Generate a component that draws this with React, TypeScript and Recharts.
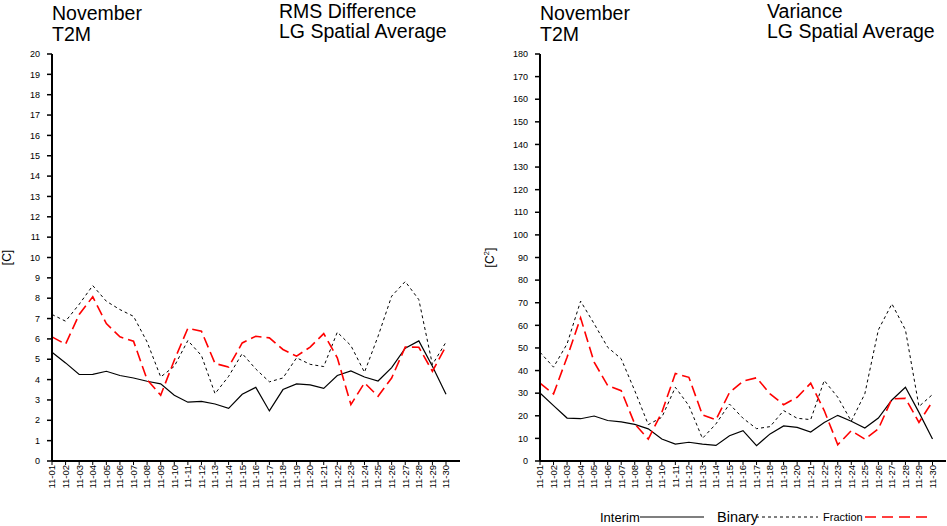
import { LineChart, Line, XAxis, YAxis } from "recharts"

const days = [
  "11-01", "11-02", "11-03", "11-04", "11-05", "11-06", "11-07", "11-08", "11-09", "11-10",
  "11-11", "11-12", "11-13", "11-14", "11-15", "11-16", "11-17", "11-18", "11-19", "11-20",
  "11-21", "11-22", "11-23", "11-24", "11-25", "11-26", "11-27", "11-28", "11-29", "11-30",
]

// RMS difference [C]
const rmsInterim = [
  5.34, 4.82, 4.25, 4.26, 4.41, 4.2, 4.08, 3.92, 3.79, 3.23,
  2.89, 2.93, 2.8, 2.59, 3.28, 3.62, 2.46, 3.51, 3.79, 3.74,
  3.57, 4.2, 4.43, 4.13, 3.93, 4.59, 5.54, 5.9, 4.66, 3.28,
]
const rmsBinary = [
  7.2, 6.87, 7.7, 8.62, 7.85, 7.44, 7.11, 5.85, 4.13, 4.65,
  5.92, 5.18, 3.31, 4.16, 5.28, 4.52, 3.89, 4.08, 5.07, 4.75,
  4.64, 6.33, 5.67, 4.36, 6.13, 8.1, 8.82, 7.93, 4.74, 5.84,
]
const rmsFraction = [
  6.1, 5.74, 7.2, 8.07, 6.75, 6.1, 5.89, 4.0, 3.23, 4.95,
  6.52, 6.38, 4.79, 4.62, 5.8, 6.13, 6.05, 5.48, 5.15, 5.6,
  6.26, 5.07, 2.77, 3.84, 3.18, 4.08, 5.6, 5.59, 4.41, 5.64,
]

// Variance [C^2]
const varInterim = [
  30.1, 24.5, 19.0, 18.7, 19.9, 17.9, 17.3, 16.2, 14.2, 9.7,
  7.5, 8.3, 7.5, 6.9, 11.2, 13.4, 6.8, 12.0, 15.5, 14.9,
  12.8, 17.0, 20.2, 17.6, 14.6, 19.0, 27.0, 32.6, 21.5, 9.7,
]
const varBinary = [
  48.1, 41.5, 51.8, 70.7, 60.7, 50.3, 45.2, 31.1, 16.1, 19.3,
  32.6, 24.5, 10.0, 16.4, 25.2, 18.9, 14.3, 15.2, 22.3, 18.9,
  18.3, 35.6, 28.2, 17.6, 29.7, 58.0, 69.5, 58.0, 24.1, 29.4,
]
const varFraction = [
  34.4, 29.7, 45.9, 63.3, 43.7, 33.4, 31.1, 16.4, 9.7, 21.5,
  38.7, 37.0, 20.4, 18.2, 30.3, 35.3, 36.8, 29.7, 24.9, 28.2,
  34.4, 22.3, 7.2, 13.4, 9.7, 14.2, 27.5, 27.7, 17.1, 26.3,
]

const rmsTicks = [0, 1, 2, 3, 4, 5, 6, 7, 8, 9, 10, 11, 12, 13, 14, 15, 16, 17, 18, 19, 20]
const varTicks = [0, 10, 20, 30, 40, 50, 60, 70, 80, 90, 100, 110, 120, 130, 140, 150, 160, 170, 180]

const FONT = "'Liberation Sans', Arial, Helvetica, sans-serif"
const frameLine = { stroke: "#000", strokeWidth: 2 }

// eslint-disable-next-line @typescript-eslint/no-explicit-any
function XTick({ x, y, payload }: any) {
  return (
    <text
      transform={`translate(${x},${y}) rotate(-90)`}
      textAnchor="end"
      dy="0.35em"
      fontSize={9.5}
      fill="#000"
    >
      {payload.value}
    </text>
  )
}

interface PanelProps {
  left: number
  width: number
  yWidth: number
  marginRight: number
  padRight: number
  ticks: number[]
  interim: number[]
  binary: number[]
  fraction: number[]
  squared?: boolean
}

function Panel({ left, width, yWidth, marginRight, padRight, ticks, interim, binary, fraction, squared }: PanelProps) {
  const data = days.map((day, i) => ({
    day,
    interim: interim[i],
    binary: binary[i],
    fraction: fraction[i],
  }))
  const max = ticks[ticks.length - 1]

  return (
    <div style={{ position: "absolute", left, top: 0 }}>
      <LineChart
        width={width}
        height={526}
        data={data}
        margin={{ top: 54, right: marginRight, left: 0, bottom: 0 }}
        style={{ fontFamily: FONT }}
      >
        <XAxis
          dataKey="day"
          interval={0}
          height={65}
          padding={{ left: 0, right: padRight }}
          axisLine={frameLine}
          tickLine={{ stroke: "#000" }}
          tickSize={4}
          tickMargin={0}
          tick={<XTick />}
        />
        <XAxis
          xAxisId="top"
          dataKey="day"
          orientation="top"
          height={0}
          tick={false}
          tickLine={false}
          axisLine={frameLine}
        />
        <YAxis
          domain={[0, max]}
          ticks={ticks}
          interval={0}
          width={yWidth}
          axisLine={frameLine}
          tickLine={{ stroke: "#000", strokeWidth: 1.5 }}
          tickSize={5}
          tickMargin={7}
          tick={{ fontSize: 9, fill: "#000" }}
          label={{
            // eslint-disable-next-line @typescript-eslint/no-explicit-any
            content: ({ viewBox }: any) => (
              <text
                transform={`translate(${viewBox.x + (squared ? 10 : 7)},${viewBox.y + viewBox.height / 2}) rotate(-90)`}
                textAnchor="middle"
                dy="0.35em"
                fontSize={12}
                fill="#000"
              >
                {squared ? (
                  <>
                    <tspan>[C</tspan>
                    <tspan dy={-5} fontSize={8}>2</tspan>
                    <tspan dy={5}>]</tspan>
                  </>
                ) : (
                  "[C]"
                )}
              </text>
            ),
          }}
        />
        <YAxis
          yAxisId="right"
          orientation="right"
          width={0}
          tick={false}
          tickLine={false}
          axisLine={frameLine}
        />
        <Line
          dataKey="interim"
          type="linear"
          stroke="#000"
          strokeWidth={1.2}
          dot={false}
          isAnimationActive={false}
        />
        <Line
          dataKey="binary"
          type="linear"
          stroke="#000"
          strokeWidth={1}
          strokeDasharray="3 3"
          dot={false}
          isAnimationActive={false}
        />
        <Line
          dataKey="fraction"
          type="linear"
          stroke="#ff0000"
          strokeWidth={1.6}
          strokeDasharray="11 5"
          dot={false}
          isAnimationActive={false}
        />
      </LineChart>
    </div>
  )
}

export default function App() {
  return (
    <div
      style={{
        position: "absolute",
        left: 0,
        top: 0,
        width: 947,
        height: 526,
        background: "#fff",
        fontFamily: FONT,
      }}
    >
      <Panel
        left={0}
        width={470}
        yWidth={52}
        marginRight={10}
        padRight={14}
        ticks={rmsTicks}
        interim={rmsInterim}
        binary={rmsBinary}
        fraction={rmsFraction}
      />
      <Panel
        left={480}
        width={467}
        yWidth={60}
        marginRight={1}
        padRight={13.5}
        ticks={varTicks}
        interim={varInterim}
        binary={varBinary}
        fraction={varFraction}
        squared
      />
      <svg
        width={947}
        height={526}
        style={{ position: "absolute", left: 0, top: 0, pointerEvents: "none", fontFamily: FONT }}
      >
        <g fontSize={19.5} fill="#000">
          <text x={52} y={20}>November</text>
          <text x={52} y={41}>T2M</text>
          <text x={279} y={18}>RMS Difference</text>
          <text x={279} y={38}>LG Spatial Average</text>
          <text x={540} y={20}>November</text>
          <text x={540} y={41}>T2M</text>
          <text x={767} y={18}>Variance</text>
          <text x={767} y={38}>LG Spatial Average</text>
        </g>
        <text x={600} y={522} fontSize={13} fill="#000">Interim</text>
        <line x1={640} y1={517} x2={704} y2={517} stroke="#000" strokeWidth={1.2} />
        <text x={717} y={521.5} fontSize={14.5} fill="#000">Binary</text>
        <line x1={756} y1={517} x2={818} y2={517} stroke="#000" strokeWidth={1} strokeDasharray="3 3" />
        <text x={823} y={521} fontSize={11} fill="#000">Fraction</text>
        <line x1={865} y1={517} x2={930} y2={517} stroke="#ff0000" strokeWidth={1.6} strokeDasharray="11 6" />
      </svg>
    </div>
  )
}
